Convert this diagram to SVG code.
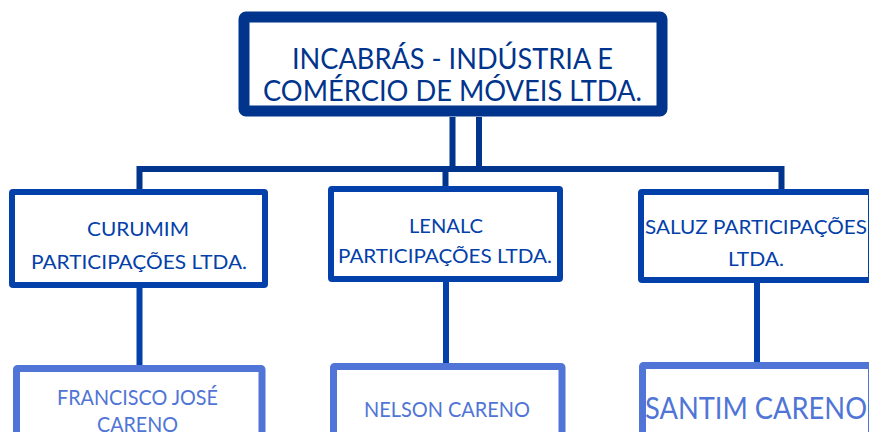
<svg xmlns="http://www.w3.org/2000/svg" width="869" height="432" viewBox="0 0 869 432">
<style>
text{font-family:Lato,"Open Sans","Liberation Sans",sans-serif;text-anchor:middle}
.top rect{fill:#fff;stroke:#01348c;stroke-width:11}
.top text{fill:#01348c;font-size:29px}
.mid rect{fill:#fff;stroke:#0340a9;stroke-width:6}
.mid text{fill:#0340a9;font-size:20px}
.bot rect{fill:#fff;stroke:#5075d6;stroke-width:7}
.bot text{fill:#5075d6;font-size:22px}
.dk{stroke:#01348c;stroke-width:6;fill:none}
.md{stroke:#0340a9;stroke-width:6;fill:none}
</style>
<g id="connectors">
<path class="dk" d="M452.5 117 V169 H479 V117"/>
<path class="dk" d="M139.5 198 V169 H781.5 V198"/>
<path class="dk" d="M445.5 169 V198"/>
<path class="md" d="M139.5 285 V373"/>
<path class="md" d="M446 282 V370"/>
<path class="md" d="M757 283 V372"/>
</g>
<g id="incabras" class="top">
<rect x="244" y="17" width="418" height="94" rx="2"/>
<text x="452.5" y="69" textLength="321" lengthAdjust="spacingAndGlyphs">INCABRÁS - INDÚSTRIA E</text>
<text x="452.5" y="101" textLength="379" lengthAdjust="spacingAndGlyphs">COMÉRCIO DE MÓVEIS LTDA.</text>
</g>
<g id="curumim" class="mid">
<rect x="12" y="192" width="253" height="93" rx="1"/>
<text x="138" y="236" textLength="102" lengthAdjust="spacingAndGlyphs">CURUMIM</text>
<text x="139" y="269" textLength="216" lengthAdjust="spacingAndGlyphs">PARTICIPAÇÕES LTDA.</text>
</g>
<g id="lenalc" class="mid">
<rect x="331" y="189" width="229" height="90" rx="1"/>
<text x="446" y="233" textLength="74" lengthAdjust="spacingAndGlyphs">LENALC</text>
<text x="445" y="263" textLength="214" lengthAdjust="spacingAndGlyphs">PARTICIPAÇÕES LTDA.</text>
</g>
<g id="saluz" class="mid">
<rect x="641" y="192" width="230" height="88" rx="1"/>
<text x="756" y="234" textLength="222" lengthAdjust="spacingAndGlyphs">SALUZ PARTICIPAÇÕES</text>
<text x="756" y="266" textLength="56" lengthAdjust="spacingAndGlyphs">LTDA.</text>
</g>
<g id="francisco" class="bot">
<rect x="16.5" y="368.5" width="245.5" height="80" rx="1"/>
<text x="137.5" y="405" textLength="161" lengthAdjust="spacingAndGlyphs">FRANCISCO JOSÉ</text>
<text x="137.5" y="432" textLength="81" lengthAdjust="spacingAndGlyphs">CARENO</text>
</g>
<g id="nelson" class="bot">
<rect x="333.5" y="366.5" width="228.5" height="80" rx="1"/>
<text x="447" y="417" textLength="166" lengthAdjust="spacingAndGlyphs">NELSON CARENO</text>
</g>
<g id="santim" class="bot">
<rect x="642.5" y="365.5" width="229" height="80" rx="1"/>
<text x="756" y="419" style="font-size:30px" textLength="222" lengthAdjust="spacingAndGlyphs">SANTIM CARENO</text>
</g>
</svg>
